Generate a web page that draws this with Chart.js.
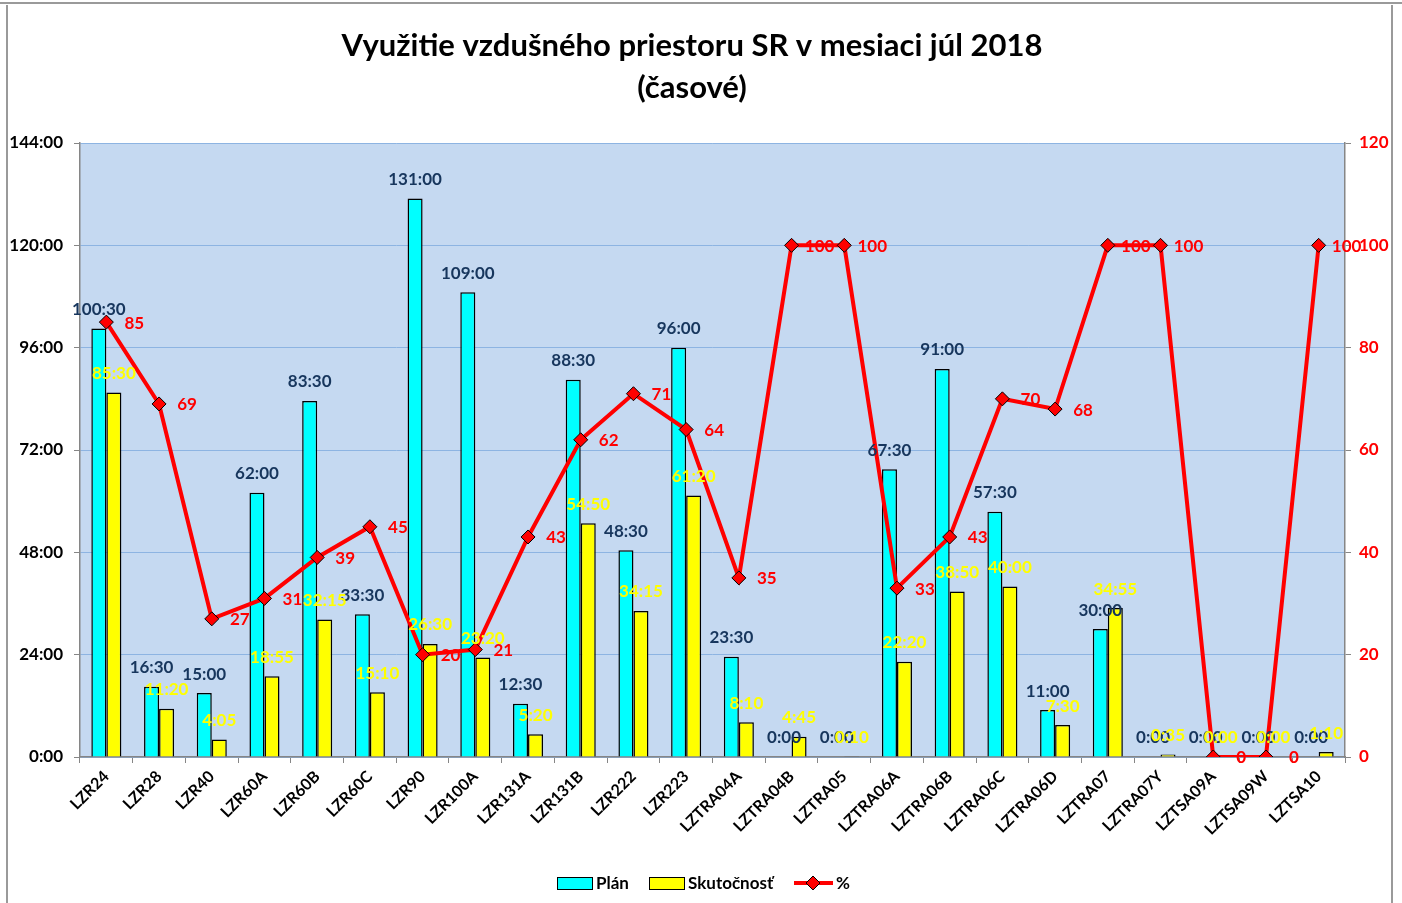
<!DOCTYPE html>
<html>
<head>
<meta charset="utf-8">
<script src="https://cdn.jsdelivr.net/npm/chart.js@4"></script>
<style>
html,body{margin:0;padding:0;background:#fff;}
canvas{display:block;}
</style>
</head>
<body>
<canvas id="c" width="1402" height="903"></canvas>
<script>
const categories = ['LZR24','LZR28','LZR40','LZR60A','LZR60B','LZR60C','LZR90','LZR100A','LZR131A','LZR131B','LZR222','LZR223','LZTRA04A','LZTRA04B','LZTRA05','LZTRA06A','LZTRA06B','LZTRA06C','LZTRA06D','LZTRA07','LZTRA07Y','LZTSA09A','LZTSA09W','LZTSA10'];
const planTimes = ['100:30','16:30','15:00','62:00','83:30','33:30','131:00','109:00','12:30','88:30','48:30','96:00','23:30','0:00','0:00','67:30','91:00','57:30','11:00','30:00','0:00','0:00','0:00','0:00'];
const actualTimes = ['85:30','11:20','4:05','18:55','32:15','15:10','26:30','23:20','5:20','54:50','34:15','61:20','8:10','4:45','0:10','22:20','38:50','40:00','7:30','34:55','0:35','0:00','0:00','1:10'];
const percent = [85,69,27,31,39,45,20,21,43,62,71,64,35,100,100,33,43,70,68,100,100,0,0,100];
const leftTicks = [0,24,48,72,96,120,144];
const rightTicks = [0,20,40,60,80,100,120];
const titleLines = ['Využitie vzdušného priestoru SR v mesiaci júl 2018','(časové)'];
const seriesNames = ['Plán','Skutočnosť','%'];

function toHours(t){ const p=t.split(':'); return Number(p[0]) + Number(p[1])/60; }
const planValues = planTimes.map(toHours);
const actualValues = actualTimes.map(toHours);

const FONT = 'Lato, "Open Sans", sans-serif';
const C_PLAN = '#00FFFF', C_ACT = '#FFFF00', C_PCT = '#FF0000', C_NAVY = '#17365D';

const decor = {
  id: 'decor',
  beforeDraw(chart){
    const ctx = chart.ctx, a = chart.chartArea;
    ctx.save();
    ctx.fillStyle = '#fff'; ctx.fillRect(0,0,chart.width,chart.height);
    ctx.strokeStyle = '#9a9a9a'; ctx.lineWidth = 2;
    ctx.beginPath(); ctx.moveTo(0,3); ctx.lineTo(1402,3); ctx.stroke();
    ctx.beginPath(); ctx.moveTo(7,5); ctx.lineTo(7,903); ctx.stroke();
    ctx.beginPath(); ctx.moveTo(1392,5); ctx.lineTo(1392,903); ctx.stroke();
    ctx.fillStyle = '#C5D9F1';
    ctx.fillRect(a.left, a.top, a.right-a.left, a.bottom-a.top);
    // title
    ctx.fillStyle = '#000'; ctx.textAlign='center'; ctx.textBaseline='middle';
    ctx.font = 'bold 31px ' + FONT;
    ctx.fillText(titleLines[0], 692, 46);
    ctx.fillText(titleLines[1], 692, 88);
    ctx.restore();
  },
  afterDatasetsDraw(chart){
    const ctx = chart.ctx;
    ctx.save();
    ctx.font = 'bold 17px ' + FONT;
    ctx.textAlign='center'; ctx.textBaseline='middle';
    const m0 = chart.getDatasetMeta(0), m1 = chart.getDatasetMeta(1), m2 = chart.getDatasetMeta(2);
    m0.data.forEach((el,i)=>{ ctx.fillStyle=C_NAVY; ctx.fillText(planTimes[i], el.x, el.y-19); });
    m1.data.forEach((el,i)=>{ ctx.fillStyle=C_ACT; ctx.fillText(actualTimes[i], el.x, el.y-19); });
    m2.data.forEach((el,i)=>{ ctx.fillStyle=C_PCT; ctx.fillText(String(percent[i]), el.x+28, el.y+1); });
    // legend
    const ly = 883;
    ctx.font = 'bold 17px ' + FONT;
    ctx.textAlign='left';
    ctx.lineWidth=1; ctx.strokeStyle='#000';
    ctx.fillStyle=C_PLAN; ctx.fillRect(557,ly-6,35,12); ctx.strokeRect(557.5,ly-5.5,35,12);
    ctx.fillStyle='#000'; ctx.fillText(seriesNames[0], 596, ly+1);
    ctx.fillStyle=C_ACT; ctx.fillRect(649,ly-6,35,12); ctx.strokeRect(649.5,ly-5.5,35,12);
    ctx.fillStyle='#000'; ctx.fillText(seriesNames[1], 688, ly+1);
    ctx.strokeStyle=C_PCT; ctx.lineWidth=4;
    ctx.beginPath(); ctx.moveTo(794,ly); ctx.lineTo(833,ly); ctx.stroke();
    ctx.beginPath(); ctx.moveTo(813,ly-7); ctx.lineTo(820,ly); ctx.lineTo(813,ly+7); ctx.lineTo(806,ly); ctx.closePath();
    ctx.fillStyle=C_PCT; ctx.fill(); ctx.lineWidth=1; ctx.strokeStyle='#000'; ctx.stroke();
    ctx.fillStyle='#000'; ctx.fillText(seriesNames[2], 836, ly+1);
    ctx.restore();
  }
};

new Chart(document.getElementById('c'), {
  type: 'bar',
  data: {
    labels: categories,
    datasets: [
      { label: seriesNames[0], data: planValues, backgroundColor: C_PLAN, borderColor: '#000', borderWidth: 1.5, yAxisID: 'y', order: 2, categoryPercentage: 0.57, barPercentage: 1.0 },
      { label: seriesNames[1], data: actualValues, backgroundColor: C_ACT, borderColor: '#000', borderWidth: 1.5, yAxisID: 'y', order: 2, categoryPercentage: 0.57, barPercentage: 1.0 },
      { type: 'line', label: seriesNames[2], data: percent, borderColor: C_PCT, borderWidth: 4, pointStyle: 'rectRot', pointRadius: 7, pointBackgroundColor: C_PCT, pointBorderColor: '#000', pointBorderWidth: 1, yAxisID: 'y1', order: 0, tension: 0 }
    ]
  },
  options: {
    responsive: false,
    animation: false,
    devicePixelRatio: 1,
    layout: { padding: { top: 143, left: 0, right: 0, bottom: 0 } },
    plugins: { legend: { display: false }, title: { display: false }, tooltip: { enabled: false } },
    scales: {
      x: {
        grid: { offset: true, drawOnChartArea: false, drawTicks: true, tickLength: 6, tickColor: '#868686' },
        border: { color: '#868686', width: 1.5 },
        ticks: { color: '#000', font: { family: FONT, weight: 'bold', size: 16 }, maxRotation: 45, minRotation: 45, autoSkip: false, padding: 4 },
        afterFit(s){ s.height = 146; }
      },
      y: {
        position: 'left', min: 0, max: 144,
        afterBuildTicks(s){ s.ticks = leftTicks.map(v=>({value:v})); },
        grid: { color: '#8DB4E2', lineWidth: 1, tickColor: '#868686', tickLength: 6 },
        border: { color: '#868686', width: 1.5 },
        ticks: { color: '#000', font: { family: FONT, weight: 'bold', size: 17 }, padding: 11, callback: v => v + ':00' },
        afterFit(s){ s.width = 80; }
      },
      y1: {
        position: 'right', min: 0, max: 120,
        afterBuildTicks(s){ s.ticks = rightTicks.map(v=>({value:v})); },
        grid: { drawOnChartArea: false, tickColor: '#868686', tickLength: 6 },
        border: { color: '#868686', width: 1.5 },
        ticks: { color: C_PCT, font: { family: FONT, weight: 'bold', size: 17 }, padding: 8 },
        afterFit(s){ s.width = 57; }
      }
    }
  },
  plugins: [decor]
});
</script>
</body>
</html>
